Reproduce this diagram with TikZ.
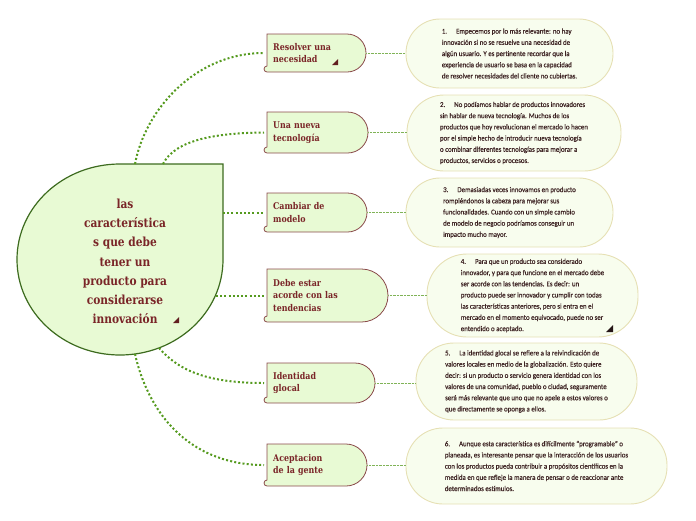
\documentclass[tikz,border=0pt]{standalone}
\usepackage{fontspec}
\newfontfamily\notafont[FakeStretch=0.93, FakeBold=0.4]{Carlito}
\newfontfamily\titulofont[FakeStretch=0.85]{DejaVu Serif}

\definecolor{verdefondo}{HTML}{E8FAD4}
\definecolor{verdeborde}{HTML}{3D6B1F}
\definecolor{verdelinea}{HTML}{559A1F}
\definecolor{rojotexto}{HTML}{7A2528}
\definecolor{rojoborde}{HTML}{8A4A4A}
\definecolor{notafondo}{HTML}{F8FDEE}
\definecolor{notaborde}{HTML}{E6E0B4}
\definecolor{notatexto}{HTML}{3E2424}

\tikzset{
  enlace/.style={verdelinea, line width=2pt, dash pattern=on 2pt off 2.2pt},
  enlacefino/.style={verdelinea!75, line width=0.8pt, dash pattern=on 0.7pt off 0.7pt},
  centrotexto/.style={text=rojotexto, font=\titulofont\bfseries\fontsize{12.5}{19.2}\selectfont, align=center},
  rama/.style={draw=rojoborde, fill=verdefondo, line width=0.8pt},
  ramatexto/.style={text=rojotexto, font=\titulofont\bfseries\fontsize{9.3}{12.5}\selectfont, align=left, inner xsep=9pt, inner ysep=0pt},
  nota/.style={draw=notaborde, fill=notafondo, line width=0.9pt, text=notatexto, font=\notafont\fontsize{7.4}{11.2}\selectfont, align=left, inner sep=0pt}
}

\begin{document}
\begin{tikzpicture}[x=1pt, y=1pt]
\useasboundingbox (0,0) rectangle (696,-520);

% Idea central
\draw[verdeborde, fill=verdefondo, line width=1.2pt] (223,-164) -- (120,-164)
  arc[start angle=90, end angle=360, x radius=103, y radius=95.5] -- cycle;
\node[centrotexto] (centro) at (125,-261.5) {las\\característica\\s que debe\\tener un\\producto para\\considerarse\\innovación};
\fill[rojotexto!80!black] (173,-323) -- (179,-323) -- (179,-317) -- cycle;

\coordinate (c1) at (135,-164);
\coordinate (c2) at (163,-164);
\coordinate (c3) at (223,-212.5);
\coordinate (c4) at (216,-295.5);
\coordinate (c5) at (159,-348);
\coordinate (c6) at (135,-354);

% Ramas
\foreach \n/\y/\w/\h/\t in {1/34/102/38/{Resolver una\\necesidad},
                            2/112/104/41/{Una nueva\\tecnología},
                            3/193/103/39/{Cambiar de\\modelo},
                            4/269/124/53/{Debe estar\\acorde con las\\tendencias},
                            5/363/111/40/{Identidad\\glocal},
                            6/444/103/42/{Aceptacion\\de la gente}}{
  \pgfmathsetmacro\tw{\w-18}
  \draw[rama] (267,-\y) -- (264+\w-\h/2,-\y) arc[start angle=90, end angle=-90, radius=\h/2]
    -- (267,-\y-\h) arc[start angle=270, end angle=180, radius=3]
    -- (264,-\y-\h+3) arc[start angle=180, end angle=90, radius=3] -- cycle;
  \node[ramatexto, text width=\tw pt, anchor=west] (r\n) at (264,-\y-\h/2) {\t};
}
\fill[rojotexto!80!black] (332,-65) -- (338,-65) -- (338,-59) -- cycle;

\draw[enlace] (c1) .. controls (145,-110) and (195,-53) .. (r1.west);
\draw[enlace] (c2) .. controls (175,-140) and (215,-133) .. (r2.west);
\draw[enlace] (c3) -- (r3.west);
\draw[enlace] (c4) -- (r4.west);
\draw[enlace] (c5) .. controls (180,-372) and (210,-383) .. (r5.west);
\draw[enlace] (c6) .. controls (150,-420) and (195,-465) .. (r6.west);

% Notas
\node[nota, minimum width=207pt, minimum height=69pt, rounded corners=34pt] (n1) at (509.5,-53.5)
  {1.\hspace{9pt}Empecemos por lo más relevante: no hay\\innovación si no se resuelve una necesidad de\\algún usuario. Y es pertinente recordar que la\\experiencia de usuario se basa en la capacidad\\de resolver necesidades del cliente no cubiertas.};
\node[nota, minimum width=214pt, minimum height=76pt, rounded corners=37pt] (n2) at (514,-133)
  {2.\hspace{9pt}No podíamos hablar de productos innovadores\\sin hablar de nueva tecnología. Muchos de los\\productos que hoy revolucionan el mercado lo hacen\\por el simple hecho de introducir nueva tecnología\\o combinar diferentes tecnologías para mejorar a\\productos, servicios o procesos.};
\node[nota, minimum width=207pt, minimum height=69pt, rounded corners=34pt] (n3) at (509.5,-212.5)
  {3.\hspace{9pt}Demasiadas veces innovamos en producto\\rompiéndonos la cabeza para mejorar sus\\funcionalidades. Cuando con un simple cambio\\de modelo de negocio podríamos conseguir un\\impacto mucho mayor.};
\node[nota, minimum width=211pt, minimum height=83pt, rounded corners=40pt] (n4) at (532.5,-295.5)
  {4.\hspace{9pt}Para que un producto sea considerado\\innovador, y para que funcione en el mercado debe\\ser acorde con las tendencias. Es decir: un\\producto puede ser innovador y cumplir con todas\\las características anteriores, pero si entra en el\\mercado en el momento equivocado, puede no ser\\entendido o aceptado.};
\fill[notatexto!60!black] (606,-332) -- (613,-332) -- (613,-325) -- cycle;
\node[nota, minimum width=221pt, minimum height=77pt, rounded corners=38pt] (n5) at (526.5,-381.5)
  {5.\hspace{9pt}La identidad glocal se refiere a la reivindicación de\\valores locales en medio de la globalización. Esto quiere\\decir: si un producto o servicio genera identidad con los\\valores de una comunidad, pueblo o ciudad, seguramente\\será más relevante que uno que no apele a estos valores o\\que directamente se oponga a ellos.};
\node[nota, minimum width=261pt, minimum height=76pt, rounded corners=37pt] (n6) at (536.5,-466)
  {6.\hspace{9pt}Aunque esta característica es difícilmente “programable” o\\planeada, es interesante pensar que la interacción de los usuarios\\con los productos pueda contribuir a propósitos científicos en la\\medida en que refleje la manera de pensar o de reaccionar ante\\determinados estímulos.};

\foreach \n in {1,...,6}
  \draw[enlacefino] (r\n.east) -- (r\n.east -| n\n.west);
\end{tikzpicture}
\end{document}
